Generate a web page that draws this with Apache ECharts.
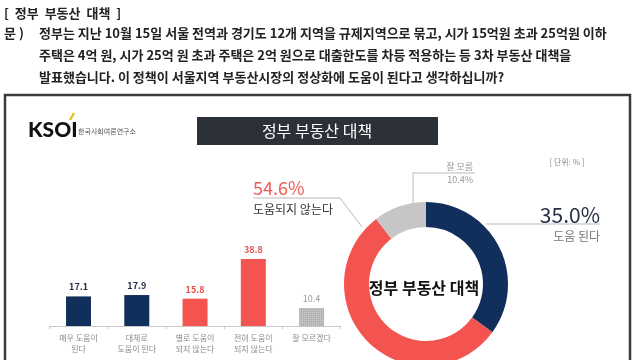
<!DOCTYPE html>
<html><head><meta charset="utf-8">
<script src="https://cdn.jsdelivr.net/npm/echarts@6/dist/echarts.min.js"></script>
<style>html,body{margin:0;padding:0;background:#fff}#c{width:640px;height:360px}</style>
</head><body><div id="c"></div>
<script>
const heading = '[  정부  부동산  대책  ]';
const questionPrefix = '문 )';
const questionLines = [
  '정부는 지난 10월 15일 서울 전역과 경기도 12개 지역을 규제지역으로 묶고, 시가 15억원 초과 25억원 이하',
  '주택은 4억 원, 시가 25억 원 초과 주택은 2억 원으로 대출한도를 차등 적용하는 등 3차 부동산 대책을',
  '발표했습니다. 이 정책이 서울지역 부동산시장의 정상화에 도움이 된다고 생각하십니까?'
];
const chartTitle = '정부 부동산 대책';
const donutCenterText = '정부 부동산 대책';
const unitLabel = '[ 단위: % ]';
const logoText = 'KSOI';
const logoSub = '한국사회여론연구소';
const barCategories = ['매우 도움이\n된다', '대체로\n도움이 된다', '별로 도움이\n되지 않는다', '전혀 도움이\n되지 않는다', '잘 모르겠다'];
const barValues = [17.1, 17.9, 15.8, 38.8, 10.4];
const pieNames = ['도움 된다', '도움되지 않는다', '잘 모름'];
const pieValues = [35.0, 54.6, 10.4];

const FONT = '"Noto Sans CJK KR", "Noto Sans", sans-serif';
const NAVY = '#10305b', RED = '#f4544f', GRAY = '#c6c6c6';
const barColors = [NAVY, NAVY, RED, RED, '#b4b4b4'];
const barLabelColors = ['#1e2b45', '#1e2b45', '#e5524e', '#e5524e', '#9a9a9a'];
const pieColors = [NAVY, RED, GRAY];

const chart = echarts.init(document.getElementById('c'), null, {renderer: 'canvas'});

const graphics = [
  {type: 'rect', z: 0, shape: {x: 5, y: 95, width: 625, height: 290},
   style: {fill: '#fff', stroke: '#3a3a3a', lineWidth: 2.5}},
  {type: 'text', x: 4, y: 13, style: {text: heading, font: 'bold 13px ' + FONT, fill: '#222', verticalAlign: 'middle'}},
  {type: 'text', x: 4, y: 33, style: {text: questionPrefix, font: 'bold 13px ' + FONT, fill: '#222', verticalAlign: 'middle'}},
  {type: 'rect', shape: {x: 197, y: 117, width: 241, height: 28}, style: {fill: '#2c3038'}},
  {type: 'text', x: 317, y: 131, style: {text: chartTitle, font: '16px ' + FONT, fill: '#fff', align: 'center', verticalAlign: 'middle'}},
  {type: 'text', x: 28, y: 130, style: {text: logoText, font: '900 21px Lato, "DejaVu Sans", sans-serif', fill: '#111', verticalAlign: 'middle'}},
  {type: 'line', shape: {x1: 70, y1: 120, x2: 74, y2: 113}, style: {stroke: '#e6c02a', lineWidth: 2.5}},
  {type: 'text', x: 78, y: 131, style: {text: logoSub, font: '7px ' + FONT, fill: '#555', verticalAlign: 'middle'}},
  {type: 'text', x: 567, y: 162, style: {text: unitLabel, font: '8px ' + FONT, fill: '#888', align: 'center', verticalAlign: 'middle'}},
  {type: 'text', x: 424, y: 288, z: 10, style: {text: donutCenterText, font: 'bold 16px ' + FONT, fill: '#111', align: 'center', verticalAlign: 'middle'}}
];
questionLines.forEach((t, i) => {
  graphics.push({type: 'text', x: 39, y: 33 + i * 22, style: {text: t, font: 'bold 13px ' + FONT, fill: '#222', verticalAlign: 'middle'}});
});

const pieLayouts = [
  {x: 600, y: 203, align: 'right', verticalAlign: 'top', labelLinePoints: [[486, 224], [543, 224], [600, 224]]},
  {x: 253, y: 177, align: 'left', verticalAlign: 'top', labelLinePoints: [[253, 198], [340, 198], [362, 227]]},
  {x: 473, y: 160, align: 'right', verticalAlign: 'top', labelLinePoints: [[413, 203], [413, 173], [475, 173]]}
];

const option = {
  animation: false,
  textStyle: {fontFamily: FONT},
  graphic: graphics,
  grid: {left: 49.4, width: 291.3, top: 239.5, bottom: 34},
  xAxis: {
    type: 'category', data: barCategories,
    axisLine: {lineStyle: {color: '#c8c8c8', width: 1}},
    axisTick: {show: true, length: 3, lineStyle: {color: '#c8c8c8'}},
    axisLabel: {fontSize: 8, color: '#8a8a8a', lineHeight: 11, margin: 6, interval: 0}
  },
  yAxis: {type: 'value', min: 0, max: 50, show: false, splitLine: {show: false}},
  series: [
    {
      type: 'bar', barWidth: 25,
      data: barValues.map((v, i) => ({
        value: v,
        itemStyle: i === 4 ? {color: barColors[i], decal: {symbol: 'rect', symbolSize: 1, dashArrayX: [1, 1], dashArrayY: [1, 1], color: 'rgba(255,255,255,0.35)'}} : {color: barColors[i]},
        label: {color: barLabelColors[i], fontWeight: i === 4 ? 'normal' : 'bold'}
      })),
      label: {show: true, position: 'top', distance: 5, fontSize: 9, formatter: p => p.value.toFixed(1)}
    },
    {
      type: 'pie', center: [426, 284], radius: [57, 82], startAngle: 90, clockwise: true,
      avoidLabelOverlap: false, silent: true,
      emphasis: {disabled: true},
      data: pieValues.map((v, i) => ({name: pieNames[i], value: v, itemStyle: {color: pieColors[i]}})),
      label: {
        show: true, position: 'outside',
        formatter: p => {
          const v = p.value.toFixed(1) + '%';
          if (p.dataIndex === 0) return '{v0|' + v + '}\n{n0|' + p.name + '}';
          if (p.dataIndex === 1) return '{v1|' + v + '}\n{n1|' + p.name + '}';
          return '{s|' + p.name + '}\n{s|' + v + '}';
        },
        rich: {
          v0: {fontSize: 21, color: '#27324a', lineHeight: 24, fontFamily: FONT},
          n0: {fontSize: 12, color: '#777', lineHeight: 18, fontFamily: FONT},
          v1: {fontSize: 18, color: '#ef5b57', lineHeight: 22, fontFamily: FONT},
          n1: {fontSize: 12, color: '#333', lineHeight: 20, fontFamily: FONT},
          s: {fontSize: 9, color: '#999', lineHeight: 13, fontFamily: FONT}
        }
      },
      labelLine: {show: true, length: 10, length2: 10, smooth: false, lineStyle: {color: '#bbb', width: 1}},
      labelLayout: p => pieLayouts[p.dataIndex]
    }
  ]
};
chart.setOption(option);
</script></body></html>
